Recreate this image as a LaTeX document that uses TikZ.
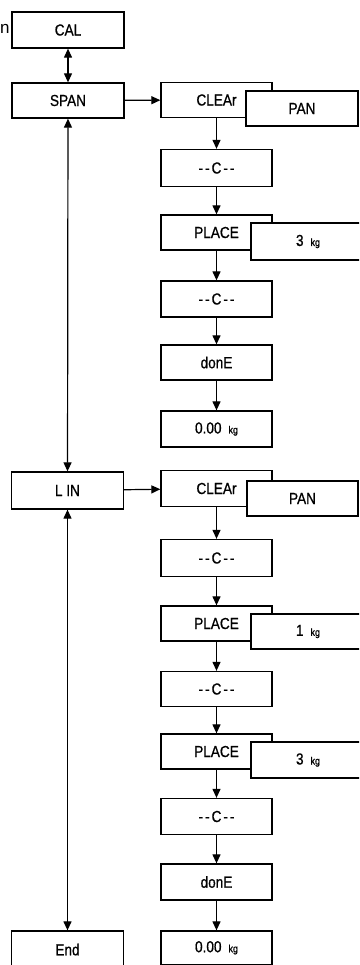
\documentclass[tikz,border=0pt]{standalone}
\usepackage{fontspec}
\setmainfont{Liberation Sans}[FakeStretch=0.85,FakeBold=0.8]
\newfontfamily\plainfont{Liberation Sans}
\usetikzlibrary{arrows.meta}
\newcommand{\kgu}{\hspace{7pt}{\fontsize{10.5}{10.5}\selectfont kg}}
\newcommand{\cdash}{{-}\hspace{2pt}{-}\hspace{2pt}C\hspace{2pt}{-}\hspace{2pt}{-}}
\begin{document}
\begin{tikzpicture}[x=1pt,y=-1pt,
  box/.style={draw, line width=1.3pt, fill=white, inner sep=0pt, minimum width=111pt, minimum height=35pt, font=\fontsize{16}{16}\selectfont},
  lbox/.style={box, minimum width=112pt},
  obox/.style={box, minimum width=112pt},
  arr/.style={line width=1.2pt, -{Triangle[length=9pt,width=8pt]}},
  darr/.style={line width=1.2pt, {Triangle[length=9pt,width=8pt]}-{Triangle[length=9pt,width=8pt]}}]
\useasboundingbox (0,0) rectangle (359,965);
\clip (0,0) rectangle (359,965);
\fill[white] (0,0) rectangle (359,965);
% left column
\node[anchor=west, inner sep=0pt, font=\plainfont\fontsize{17}{17}\selectfont] (cut) at (0,29) {n};
\node[lbox, minimum height=36pt] (cal) at (68,30) {CAL};
\node[lbox] (span) at (68,100.5) {SPAN};
\node[lbox, minimum height=37pt] (lin) at (67.5,490.5) {L IN};
\node[lbox, minimum height=41pt] (end) at (67.5,951.5) {\raisebox{4pt}{End}};
% right column, span
\node[box] (clr1) at (216.5,100) {CLEAr};
\node[box, minimum height=37pt] (c1) at (216.5,168) {\cdash};
\node[box] (pl1) at (216.5,232.5) {PLACE};
\node[box, minimum height=36pt] (c2) at (216.5,299) {\cdash};
\node[box] (dn1) at (216.5,362.5) {donE};
\node[box, minimum height=36pt] (z1) at (216.5,429) {0.00\kgu};
% right column, lin
\node[box, minimum height=36pt] (clr2) at (216.5,488.5) {CLEAr};
\node[box, minimum height=37pt] (c3) at (216.5,558) {\cdash};
\node[box] (pl2) at (216.5,623.5) {PLACE};
\node[box] (c4) at (216.5,689) {\cdash};
\node[box] (pl3) at (216.5,751.5) {PLACE};
\node[box, minimum height=36pt] (c5) at (216.5,816.5) {\cdash};
\node[box, minimum height=36pt] (dn2) at (216.5,882) {donE};
\node[box, minimum height=33.5pt] (z2) at (216.5,947.75) {0.00\kgu};
% connectors
\draw[darr] (cal) -- (span);
\draw[arr] (span) -- (clr1);
\draw[darr] (span) -- (lin);
\draw[arr] (lin) -- (clr2);
\draw[darr] (lin) -- (end.north);
\draw[arr] (clr1) -- (c1);
\draw[arr] (c1) -- (pl1);
\draw[arr] (pl1) -- (c2);
\draw[arr] (c2) -- (dn1);
\draw[arr] (dn1) -- (z1);
\draw[arr] (clr2) -- (c3);
\draw[arr] (c3) -- (pl2);
\draw[arr] (pl2) -- (c4);
\draw[arr] (c4) -- (pl3);
\draw[arr] (pl3) -- (c5);
\draw[arr] (c5) -- (dn2);
\draw[arr] (dn2) -- (z2);
% overlay boxes
\node[obox] (pan1) at (302,108.5) {PAN};
\node[obox, minimum width=114pt, minimum height=37pt] (kg1) at (308,241.5) {3\kgu};
\node[obox, minimum width=111pt] (pan2) at (302.5,498.5) {PAN};
\node[obox, minimum width=114pt] (kg2) at (308,631.5) {1\kgu};
\node[obox, minimum width=114pt, minimum height=36pt] (kg3) at (308,760) {3\kgu};
\end{tikzpicture}
\end{document}
